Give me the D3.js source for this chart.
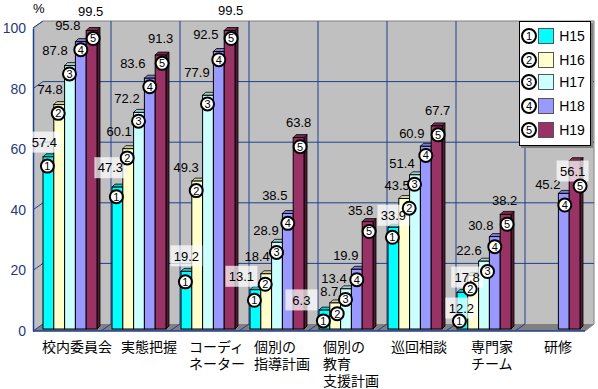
<!DOCTYPE html>
<html>
<head>
<meta charset="utf-8">
<script src="https://cdn.jsdelivr.net/npm/d3@7"></script>
<style>
  html, body { margin: 0; padding: 0; background: #fff; }
  svg { display: block; }
  text { font-family: "Liberation Sans", Arial, sans-serif; }
  .cjk { font-family: "Noto Sans CJK JP", sans-serif; }
</style>
</head>
<body>
<svg id="chart"></svg>
<script>
// data
var categories = ["校内委員会", "実態把握", "コーディ\nネーター", "個別の\n指導計画", "個別の\n教育\n支援計画", "巡回相談", "専門家\nチーム", "研修"];
var seriesNames = ["H15", "H16", "H17", "H18", "H19"];
var h15 = [57.4, 47.3, 19.2, 13.1, 6.3, 33.9, 12.2, null];
var h16 = [74.8, 60.1, 49.3, 18.4, 8.7, 43.5, 17.8, null];
var h17 = [87.8, 72.2, 77.9, 28.9, 13.4, 51.4, 22.6, null];
var h18 = [95.8, 83.6, 92.5, 38.5, 19.9, 60.9, 30.8, 45.2];
var h19 = [99.5, 91.3, 99.5, 63.8, 35.8, 67.7, 38.2, 56.1];
var seriesValues = [h15, h16, h17, h18, h19];
var yTicks = [0, 20, 40, 60, 80, 100];

var colors = ["#00ffff", "#ffffcc", "#ccffff", "#9999ff", "#993366"];

// the value labels were placed by hand in the original: offset from bar top, [category][series]
var labelOffsets = [
  [[-4,-13],[-9,-13],[-15,-13],[-13,-13],[-1,-16]],
  [[-7,-18],[-9,-16],[-12,-12],[-17,-12],[0,-14]],
  [[0,-15],[-11,-12],[-11,-21],[-13,-14],[1,-17]],
  [[-14,-13],[-9,-17],[-11,-11],[-13,-17],[0,-13]],
  [[-23,-10],[-6,-11],[-12,-10],[-11,-13],[-7,-10]],
  [[0,-11],[-7,-12],[-13,-10],[-14,-11],[1,-14]],
  [[-1,16],[-6,2],[-15,-10],[-14,-10],[-1,-13]],
  [null,null,null,[-16,-8],[-2,12]]
];
// labels with a white box behind them
var boxedLabels = ["0-0", "1-0", "2-0", "3-0", "4-0", "5-0", "6-0", "6-1", "7-4"];
// circled numbers sit just under the bar top, except these
var markerShift = {"4-1": [3, 0], "5-1": [6, 0], "6-0": [-2, 18], "6-1": [-2, 3], "6-2": [4, 0], "7-3": [1, 2], "7-4": [4, 16]};
var categoryLabelDx = [10, 20, 19, 15, 15, 14, 25, 29];

var width = 598, height = 389;
var depthX = 10, depthY = 7;
var barDepth = 3;

var svg = d3.select("#chart").attr("width", width).attr("height", height);

var x = d3.scaleBand().domain(d3.range(categories.length)).range([32, 584]);
var xBar = d3.scaleBand().domain(d3.range(seriesNames.length)).range([11, 65]);
var y = d3.scaleLinear().domain([0, 100]).range([329, 26]);
var yBar = d3.scaleLinear().domain([0, 100]).range([329, 29]);

var wallLeft = x.range()[0] + depthX + 1, wallRight = 594;
var floorFront = y(0) + 2, floorBack = y(0) - 5;
var wallTop = y(100) - 5, frontTop = y(100) + 2;

// walls and floor
svg.append("rect")
  .attr("x", wallLeft).attr("y", wallTop)
  .attr("width", wallRight - wallLeft).attr("height", floorBack - wallTop)
  .attr("fill", "#c0c0c0");
svg.append("polygon")
  .attr("points", [[33, frontTop], [wallLeft, wallTop], [wallLeft, floorBack], [33, floorFront]].join(" "))
  .attr("fill", "#c0c0c0");
svg.append("polygon")
  .attr("points", [[33, floorFront], [wallLeft, floorBack], [wallRight, floorBack], [585, floorFront]].join(" "))
  .attr("fill", "#808080");
svg.append("path")
  .attr("d", "M33," + frontTop + "L" + wallLeft + "," + wallTop + "H" + wallRight + "V" + floorBack + "L585," + floorFront)
  .attr("fill", "none").attr("stroke", "#808080");

// grid on the back wall
var grid = "#1f3f8f";
svg.selectAll(".hgrid")
  .data(yTicks.slice(1, -1))
  .enter().append("line")
  .attr("x1", wallLeft).attr("x2", wallRight)
  .attr("y1", d => y(d) - 5).attr("y2", d => y(d) - 5)
  .attr("stroke", grid);
svg.selectAll(".vgrid")
  .data(d3.range(1, categories.length))
  .enter().append("line")
  .attr("x1", d => x(d) + depthX).attr("x2", d => x(d) + depthX)
  .attr("y1", wallTop).attr("y2", floorBack)
  .attr("stroke", grid);
svg.selectAll(".fgrid")
  .data(d3.range(1, categories.length))
  .enter().append("line")
  .attr("x1", d => x(d)).attr("x2", d => x(d) + depthX)
  .attr("y1", floorFront).attr("y2", floorBack)
  .attr("stroke", grid);
svg.selectAll(".lgrid")
  .data(yTicks)
  .enter().append("line")
  .attr("x1", 33).attr("x2", wallLeft)
  .attr("y1", d => y(d) + 2).attr("y2", d => y(d) - 5)
  .attr("stroke", grid);

// bars
categories.forEach(function(c, i) {
  seriesValues.forEach(function(vals, j) {
    var v = vals[i];
    if (v == null) return;
    var l = x(i) + xBar(j), w = xBar.bandwidth(), t = yBar(v), b = yBar(0);
    var g = svg.append("g");
    var col = d3.color(colors[j]);
    g.append("polygon")
      .attr("points", [[l + w, t], [l + w + barDepth, t - barDepth], [l + w + barDepth, b - barDepth], [l + w, b]].join(" "))
      .attr("fill", col.darker(1.8)).attr("stroke", "#000").attr("stroke-width", 0.8);
    g.append("polygon")
      .attr("points", [[l, t], [l + barDepth, t - barDepth], [l + w + barDepth, t - barDepth], [l + w, t]].join(" "))
      .attr("fill", col.darker(0.6)).attr("stroke", "#000").attr("stroke-width", 0.8);
    g.append("rect")
      .attr("x", l).attr("y", t).attr("width", w).attr("height", b - t)
      .attr("fill", colors[j]).attr("stroke", "#000");
  });
});

// front axis
var axis = svg.append("g")
  .attr("transform", "translate(33,2)")
  .call(d3.axisLeft(y).tickValues(yTicks).tickSize(0).tickPadding(7));
axis.select(".domain").attr("stroke", grid).attr("stroke-width", 1.5);
axis.selectAll("text")
  .attr("fill", "#1f3a7d")
  .style("font-size", "14px")
  .style("font-family", '"Liberation Sans", Arial, sans-serif');
svg.append("line")
  .attr("x1", 33).attr("x2", 585)
  .attr("y1", floorFront).attr("y2", floorFront)
  .attr("stroke", grid).attr("stroke-width", 1.5);

// value labels
categories.forEach(function(c, i) {
  seriesValues.forEach(function(vals, j) {
    var v = vals[i];
    if (v == null) return;
    var cx = x(i) + xBar(j) + xBar.bandwidth() / 2;
    var off = labelOffsets[i][j];
    var tx = cx + off[0], ty = y(v) + off[1];
    if (boxedLabels.indexOf(i + "-" + j) >= 0) {
      svg.append("rect")
        .attr("x", tx - 16).attr("y", ty - 10.5).attr("width", 32).attr("height", 21)
        .attr("fill", "#fff").attr("opacity", 0.72);
    }
    svg.append("text")
      .attr("x", tx).attr("y", ty).attr("dy", "0.36em")
      .attr("text-anchor", "middle")
      .style("font-size", "13px")
      .attr("fill", "#000")
      .text(v.toFixed(1));
  });
});

// circled series numbers
var markerDx = [-1, -1, -0.5, 0, 1.5];
function marker(parent, mx, my, n, r) {
  parent.append("circle")
    .attr("cx", mx).attr("cy", my).attr("r", r)
    .attr("fill", "#fff").attr("stroke", "#000").attr("stroke-width", 2);
  parent.append("text")
    .attr("x", mx).attr("y", my).attr("dy", "0.36em")
    .attr("text-anchor", "middle")
    .style("font-size", "11px")
    .attr("fill", "#000")
    .text(n);
}
categories.forEach(function(c, i) {
  seriesValues.forEach(function(vals, j) {
    var v = vals[i];
    if (v == null) return;
    var shift = markerShift[i + "-" + j] || [0, 0];
    var mx = x(i) + xBar(j) + xBar.bandwidth() / 2 + markerDx[j] + shift[0];
    marker(svg, mx, y(v) + 11 + shift[1], j + 1, 6.5);
  });
});

// category labels
categories.forEach(function(c, i) {
  var label = svg.append("text")
    .attr("class", "cjk")
    .attr("y", 352)
    .style("font-size", "14px")
    .attr("fill", "#000");
  c.split("\n").forEach(function(line, k) {
    label.append("tspan")
      .attr("x", x(i) + categoryLabelDx[i])
      .attr("dy", k ? 17 : 0)
      .text(line);
  });
});

// unit
svg.append("text")
  .attr("x", 33).attr("y", 13)
  .style("font-size", "13px")
  .text("%");

// legend
var legendY = [36, 60, 82, 106, 130];
var legend = svg.append("g");
legend.append("rect")
  .attr("x", 521).attr("y", 23).attr("width", 72).attr("height", 125)
  .attr("fill", "#808080");
legend.append("rect")
  .attr("x", 519.5).attr("y", 21.5).attr("width", 71).attr("height", 124)
  .attr("fill", "#fff").attr("stroke", "#000");
seriesNames.forEach(function(s, j) {
  marker(legend, 529, legendY[j], j + 1, 7);
  legend.append("rect")
    .attr("x", 538.5).attr("y", legendY[j] - 7.5).attr("width", 15).attr("height", 15)
    .attr("fill", colors[j]).attr("stroke", "#555");
  legend.append("text")
    .attr("x", 572).attr("y", legendY[j]).attr("dy", "0.36em")
    .attr("text-anchor", "middle")
    .style("font-size", "14px")
    .text(s);
});
</script>
</body>
</html>
